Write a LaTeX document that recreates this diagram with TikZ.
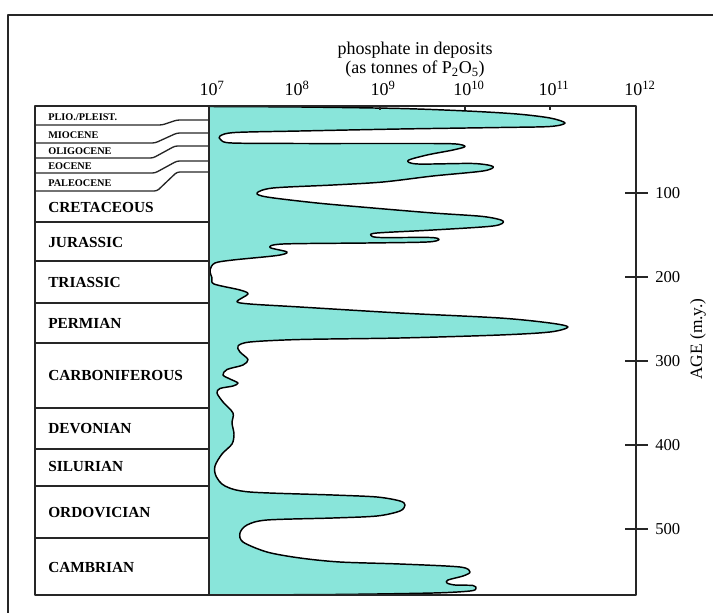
\documentclass[tikz,border=0pt]{standalone}
\usepackage{fontspec}
\setmainfont{Liberation Serif}
\definecolor{phos}{RGB}{137,229,218}
\begin{document}
\begin{tikzpicture}[x=0.75pt,y=-0.75pt,line join=round,
  frameline/.style={line width=1.1pt,draw=black!85},
  boxline/.style={line width=1pt,draw=black!85},
  era/.style={font=\fontsize{11.5}{12}\selectfont\bfseries,anchor=base west,inner sep=0pt},
  epoch/.style={font=\fontsize{7.7}{8}\selectfont\bfseries,anchor=base west,inner sep=0pt},
  axlab/.style={font=\fontsize{13.5}{14}\selectfont,anchor=base,inner sep=0pt},
  agelab/.style={font=\fontsize{12.5}{13}\selectfont,anchor=west,inner sep=0pt},
  curveline/.style={line width=1.1pt,draw=black}]
\useasboundingbox (0,0) rectangle (713,613);
% outer frame
\draw[frameline] (713,15) -- (8,15) -- (8,613);
% phosphate curve
\path[curveline,fill=phos] plot[smooth,tension=0.5] coordinates {
(209,106.5) (300,107) (400,108.5) (467,111) (517,114) (550,118) (565,123) (550,126.5) (500,127.5) (400,129) (300,131) (235,132.5) (220,136) (221,140) (232,143) (300,143.5) (400,143.5) (453,143.8) (465,146.5) (453,150) (427,155) (408,160.5) (418,164) (473,163.5) (493,166.5) (483,171) (433,176) (383,182) (333,185) (273,188) (257,193) (267,197) (317,203) (373,208) (433,213) (483,216.5) (503,221) (493,226) (433,230) (377,233) (371,235.5) (380,237.5) (430,237.5) (439,239.5) (427,242) (367,243) (283,244) (270,247.5) (287,252) (277,255.5) (233,260) (215,263) (210,270) (212,278) (214,284) (240,290) (248,294) (237,301.5) (250,304) (300,307) (400,313) (500,318) (550,323) (568,327) (550,332) (500,335) (400,338) (300,339.5) (250,342) (238,346) (240,352) (248,359.5) (243,365) (227,369.5) (223,375) (230,379) (238,383) (233,386) (220,388.5) (217,393) (223,402) (233,413) (232,423) (234,434) (232,444) (222,454) (215,466) (216,476) (225,486) (250,492) (333,495) (377,497) (400,501) (405,505) (400,511) (377,516) (333,518) (267,520) (247,525) (240,533) (243,542) (267,552) (300,558) (340,562) (400,564) (460,567) (470,572) (463,576) (448,580) (447,583) (455,585) (473,585.5) (476,588.5) (470,591) (433,593) (333,594.5) (209,595)};
% chart box
\draw[boxline] (35,106) rectangle (636,595);
\draw[boxline] (209,106) -- (209,595);
% top ticks
\foreach \tx in {380,465,550} \draw[boxline] (\tx,106) -- (\tx,110);
% cenozoic boundaries
\draw[boxline,rounded corners=2pt] (35,125) -- (162,125) -- (177,120) -- (209,120);
\draw[boxline,rounded corners=2pt] (35,143) -- (155,143) -- (177,133) -- (209,133);
\draw[boxline,rounded corners=2pt] (35,158) -- (153,158) -- (175,146) -- (209,146);
\draw[boxline,rounded corners=2pt] (35,173) -- (155,173) -- (177,161) -- (209,161);
\draw[boxline,rounded corners=2pt] (35,191) -- (157,191) -- (177,172) -- (209,172);
% period boundaries
\foreach \ry in {222,261,303,343,408,449,486,538} \draw[boxline] (35,\ry) -- (209,\ry);
% labels
\node[epoch] (plio) at (48,121) {PLIO./PLEIST.};
\node[epoch] (mio) at (48,138) {MIOCENE};
\node[epoch] (oli) at (48,155) {OLIGOCENE};
\node[epoch] (eoc) at (48,170) {EOCENE};
\node[epoch] (pal) at (48,186) {PALEOCENE};
\node[era] (cre) at (48,212) {CRETACEOUS};
\node[era] (jur) at (48,247) {JURASSIC};
\node[era] (tri) at (48,287) {TRIASSIC};
\node[era] (per) at (48,328) {PERMIAN};
\node[era] (car) at (48,380) {CARBONIFEROUS};
\node[era] (dev) at (48,433) {DEVONIAN};
\node[era] (sil) at (48,471) {SILURIAN};
\node[era] (ord) at (48,517) {ORDOVICIAN};
\node[era] (cam) at (48,572) {CAMBRIAN};
% top axis
\node[axlab] (t1) at (415,55) {phosphate in deposits};
\node[axlab] (t2) at (415,74) {(as tonnes of P\textsubscript{2}O\textsubscript{5})};
\node[axlab] (e7) at (212,96) {10\textsuperscript{7}};
\node[axlab] (e8) at (297,96) {10\textsuperscript{8}};
\node[axlab] (e9) at (383,96) {10\textsuperscript{9}};
\node[axlab] (e10) at (469,96) {10\textsuperscript{10}};
\node[axlab] (e11) at (554,96) {10\textsuperscript{11}};
\node[axlab] (e12) at (640,96) {10\textsuperscript{12}};
% right axis
\foreach \ay/\al in {193/100,277/200,361/300,445/400,529/500} {
  \draw[boxline] (625,\ay) -- (648,\ay);
  \node[agelab] (age\al) at (655,\ay) {\al};
}
\node[font=\fontsize{13}{14}\selectfont,rotate=90,inner sep=0pt] (agetitle) at (698,339) {AGE (m.y.)};
\end{tikzpicture}
\end{document}
